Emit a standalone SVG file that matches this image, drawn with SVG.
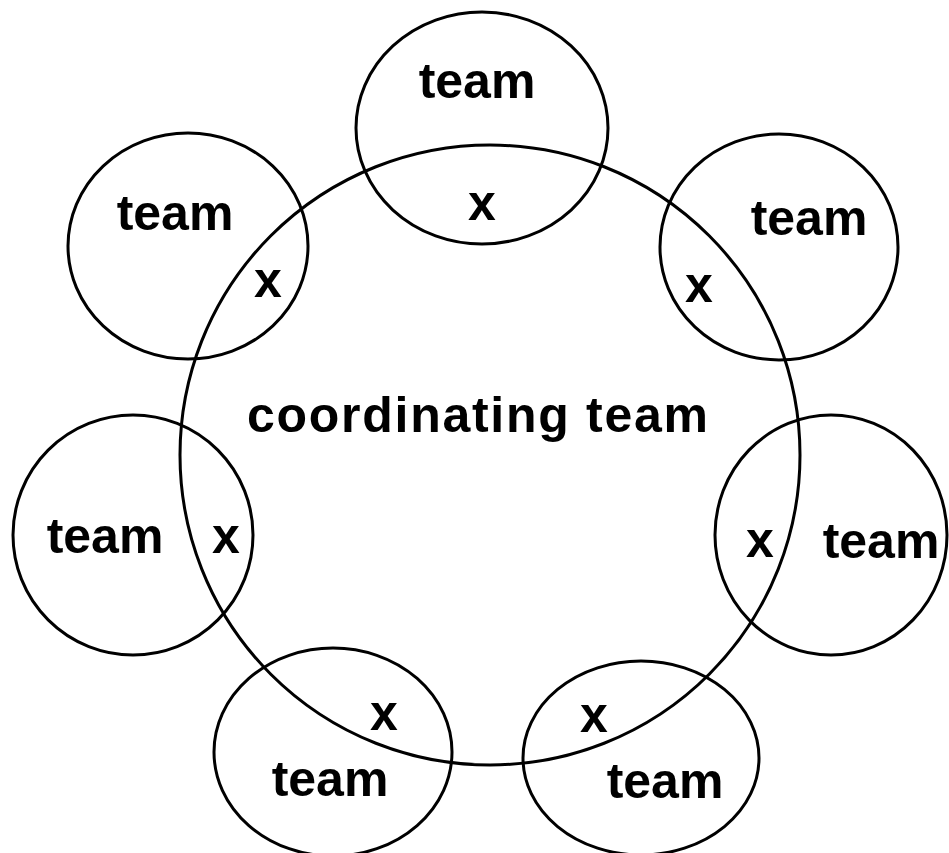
<svg xmlns="http://www.w3.org/2000/svg" width="949" height="853" viewBox="0 0 949 853">
<style>
.c{fill:none;stroke:#000;stroke-width:3}
.t{font-family:"Liberation Sans",Arial,sans-serif;font-size:50px;font-weight:bold;fill:#000;text-anchor:middle}
</style>
<rect width="949" height="853" fill="#fff"/>
<g id="coordinating">
<circle class="c" cx="490" cy="455" r="310"/>
<text class="t" x="247" y="432" style="text-anchor:start" textLength="461" lengthAdjust="spacing">coordinating team</text>
</g>
<g id="team-top">
<ellipse class="c" cx="482" cy="128" rx="126" ry="116"/>
<text class="t" x="477" y="98">team</text>
<text class="t" x="482" y="220">x</text>
</g>
<g id="team-top-left">
<ellipse class="c" cx="188" cy="246" rx="120" ry="113"/>
<text class="t" x="175" y="230">team</text>
<text class="t" x="268" y="297">x</text>
</g>
<g id="team-top-right">
<ellipse class="c" cx="779" cy="247" rx="119" ry="113"/>
<text class="t" x="809" y="235">team</text>
<text class="t" x="699" y="302">x</text>
</g>
<g id="team-left">
<ellipse class="c" cx="133" cy="535" rx="120" ry="120"/>
<text class="t" x="105" y="553">team</text>
<text class="t" x="226" y="553">x</text>
</g>
<g id="team-right">
<ellipse class="c" cx="831" cy="535" rx="116" ry="120"/>
<text class="t" x="881" y="558">team</text>
<text class="t" x="760" y="557">x</text>
</g>
<g id="team-bottom-left">
<ellipse class="c" cx="333" cy="752" rx="119" ry="104"/>
<text class="t" x="330" y="796">team</text>
<text class="t" x="384" y="730">x</text>
</g>
<g id="team-bottom-right">
<ellipse class="c" cx="641" cy="758" rx="118" ry="97"/>
<text class="t" x="665" y="798">team</text>
<text class="t" x="594" y="732">x</text>
</g>
</svg>
